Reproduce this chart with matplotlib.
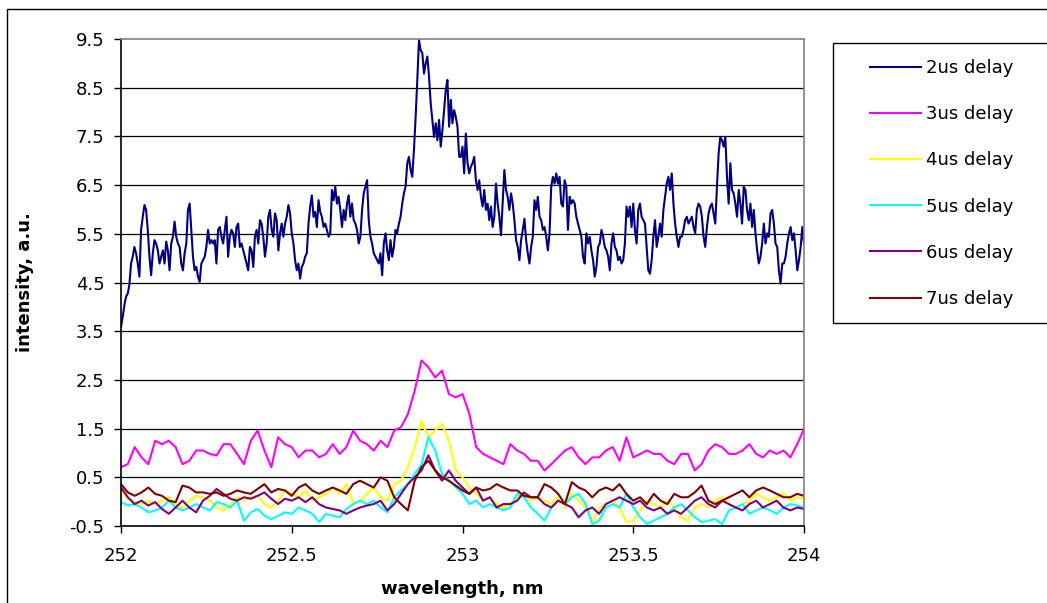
import numpy as np
import matplotlib
matplotlib.use("Agg")
import matplotlib.pyplot as plt
from matplotlib.patches import Rectangle

# intensity spectra around 253 nm for several gate delays
labels = ["2us delay", "3us delay", "4us delay", "5us delay", "6us delay", "7us delay"]
colors = ["#000080", "#FF00FF", "#FFFF00", "#00FFFF", "#800080", "#800000"]

# 2us series is sampled more finely than the others
delay_2us = [
    3.59, 3.79, 4.03, 4.21, 4.27, 4.45, 4.89, 5.03, 5.23, 5.10, 4.89, 4.62, 5.58, 5.85, 6.09, 5.99,
    5.58, 5.03, 4.65, 5.10, 5.37, 5.30, 5.16, 4.89, 5.03, 5.16, 4.89, 5.34, 5.16, 4.75, 5.30, 5.44,
    5.75, 5.44, 5.30, 5.23, 4.89, 4.75, 5.10, 5.30, 5.99, 6.12, 5.58, 5.03, 4.75, 4.82, 4.62, 4.51,
    4.89, 4.96, 5.03, 5.23, 5.58, 5.30, 5.37, 5.30, 5.37, 4.89, 5.58, 5.64, 5.44, 5.30, 5.58, 5.85,
    5.03, 5.44, 5.58, 5.51, 5.23, 5.64, 5.71, 5.23, 5.30, 5.16, 5.03, 4.89, 4.75, 5.23, 5.16, 4.82,
    5.44, 5.58, 5.30, 5.78, 5.71, 5.44, 5.03, 5.30, 5.85, 5.99, 5.58, 5.44, 5.92, 5.78, 5.16, 5.51,
    5.71, 5.44, 5.71, 5.85, 6.09, 5.92, 5.51, 5.30, 4.96, 4.75, 4.89, 4.58, 4.82, 4.89, 5.03, 5.10,
    5.71, 6.06, 6.29, 5.85, 5.95, 5.64, 6.19, 5.95, 5.85, 5.64, 5.71, 5.58, 5.44, 5.51, 6.40, 6.19,
    6.47, 6.12, 6.26, 5.99, 5.64, 5.99, 5.78, 6.12, 6.29, 5.85, 6.12, 5.78, 5.71, 5.58, 5.30, 5.44,
    5.99, 6.33, 6.47, 6.60, 5.78, 5.44, 5.30, 5.10, 5.03, 4.96, 4.89, 5.10, 4.65, 5.30, 5.51, 5.16,
    4.96, 5.37, 5.03, 5.23, 5.58, 5.51, 5.71, 5.85, 6.12, 6.33, 6.47, 6.95, 7.08, 6.81, 6.67, 7.22,
    7.90, 8.66, 9.48, 9.27, 9.21, 8.79, 9.00, 9.14, 8.73, 8.18, 7.84, 7.49, 7.77, 7.42, 7.84, 7.29,
    7.63, 8.04, 8.45, 8.66, 7.70, 8.25, 7.77, 8.04, 7.90, 7.70, 7.08,
    7.08, 7.29, 6.74, 7.56, 6.95, 6.74, 6.88, 6.95, 7.08, 6.60, 6.40, 6.60, 6.26, 6.06, 6.40, 5.99,
    6.12, 5.78, 6.06, 5.64, 5.85, 6.53, 6.12, 5.85, 5.47, 6.12, 6.81, 6.40, 6.26, 5.99, 6.33, 6.12,
    5.78, 5.37, 5.23, 4.96, 5.37, 5.58, 5.81, 5.37, 5.10, 4.89, 5.23, 5.44, 6.19, 5.99, 6.26, 5.85,
    5.78, 5.58, 5.64, 5.44, 5.16, 5.51, 6.47, 6.67, 6.53, 6.74, 6.53, 6.67, 6.12, 6.06, 6.60, 6.47,
    5.58, 6.26, 6.12, 6.19, 6.12, 5.85, 5.71, 5.58, 5.44, 5.03, 4.89, 5.51, 5.30, 5.44, 5.16, 4.96,
    4.62, 4.82, 5.23, 5.30, 5.58, 5.44, 5.23, 5.16, 5.03, 4.75, 5.30, 5.51, 5.23, 5.16, 4.96, 5.03,
    4.89, 4.96, 5.30, 6.06, 5.85, 6.06, 5.64, 6.12, 5.58, 5.30, 5.99, 6.12, 5.85, 5.78, 5.71, 5.23,
    4.75, 4.68, 4.96, 5.44, 5.78, 5.23, 5.44, 5.71, 5.44, 5.99, 6.26, 6.53, 6.67, 6.40, 6.74, 6.12,
    5.71, 5.44, 5.23, 5.44, 5.44, 5.58, 5.78, 5.85, 5.71, 5.78, 5.85, 5.64, 5.51, 5.99, 6.12, 6.06,
    5.85, 5.44, 5.23, 5.64, 5.92, 6.06, 6.12, 5.92, 5.71, 6.47, 7.15, 7.49, 7.42, 7.29, 7.49, 6.67,
    6.12, 6.95, 6.40, 6.33, 6.12, 5.85, 6.40, 6.12, 5.71, 6.47, 6.40, 5.99, 5.78, 6.12, 5.64, 5.99,
    5.51, 5.16, 4.89, 5.03, 5.30, 5.71, 5.30, 5.51, 5.44, 5.92, 5.99, 5.71, 5.30, 5.23, 4.75, 4.48,
    4.89, 4.89, 5.03, 5.30, 5.51, 5.64, 5.37, 5.51, 5.16, 4.75, 4.96, 5.23, 5.64, 5.30,
]

delay_3us = [
    0.71, 0.77, 1.12, 0.91, 0.77, 1.25, 1.18, 1.25, 1.12, 0.77, 0.84, 1.05, 1.05, 0.98, 0.95, 1.18,
    1.18, 0.98, 0.77, 1.25, 1.46, 1.05, 0.71, 1.32, 1.18, 1.12, 0.91, 1.05, 1.05, 0.91, 0.98, 1.18,
    0.98, 1.12, 1.46, 1.25, 1.18, 1.05, 1.25, 1.12, 1.46, 1.53, 1.80, 2.28, 2.90, 2.76, 2.55, 2.69,
    2.21, 2.14, 2.21, 1.80, 1.12, 0.98, 0.91, 0.84, 0.77, 1.18, 1.05, 0.98, 0.84, 0.84, 0.64, 0.77,
    0.91, 1.05, 1.12, 0.91, 0.77, 0.91, 0.91, 1.05, 1.12, 0.84, 1.32, 0.91, 0.98, 1.05, 0.98, 0.98,
    0.84, 0.77, 0.98, 0.98, 0.64, 0.77, 1.05, 1.18, 1.12, 0.98, 0.98, 1.05, 1.18, 0.98, 0.91, 1.05,
    0.98, 1.05, 0.91, 1.18, 1.49,
]

delay_4us = [
    0.23, 0.06, -0.01, -0.05, 0.02, -0.05, 0.02, 0.09, -0.05, -0.12, 0.02, 0.12, 0.09, 0.02, -0.12, -0.18,
    -0.05, 0.09, 0.02, 0.09, 0.12, -0.05, -0.12, 0.02, 0.23, 0.16, 0.09, 0.23, 0.02, 0.09, 0.16, 0.29,
    0.16, 0.36, -0.05, 0.02, 0.16, 0.29, 0.09, 0.02, 0.36, 0.43, 0.71, 1.12, 1.66, 1.32, 1.46, 1.60,
    1.25, 0.65, 0.50, 0.29, 0.16, 0.02, 0.09, -0.05, -0.12, -0.05, 0.09, 0.16, 0.02, 0.09, 0.02, -0.05,
    0.09, -0.12, 0.16, 0.02, -0.12, -0.42, -0.12, -0.05, 0.02, -0.12, -0.42, -0.39, -0.18, 0.02, -0.05, -0.12,
    0.02, -0.12, -0.32, -0.39, -0.12, -0.05, -0.12, 0.02, 0.09, -0.05, -0.12, -0.05, 0.02, 0.16, 0.09, 0.02,
    0.09, 0.16, 0.02, 0.09, 0.06,
]

delay_5us = [
    -0.01, -0.08, -0.05, -0.12, -0.22, -0.18, -0.12, 0.02, -0.12, -0.18, -0.12, -0.05, -0.12, -0.18, -0.01, -0.05,
    -0.12, 0.02, -0.39, -0.22, -0.15, -0.29, -0.36, -0.29, -0.22, -0.25, -0.12, -0.18, -0.25, -0.42, -0.25, -0.29,
    -0.32, -0.15, -0.05, 0.02, -0.05, 0.02, -0.12, -0.22, 0.09, 0.23, 0.36, 0.57, 0.77, 1.32, 1.05, 0.57,
    0.43, 0.30, 0.16, -0.05, 0.02, -0.12, -0.05, -0.12, -0.18, -0.12, 0.16, 0.09, -0.12, -0.25, -0.39, -0.12,
    0.02, -0.05, 0.09, 0.16, -0.05, -0.46, -0.39, -0.12, -0.05, -0.12, 0.16, -0.12, -0.32, -0.46, -0.39, -0.32,
    -0.25, -0.12, -0.05, -0.18, -0.32, -0.42, -0.39, -0.36, -0.46, -0.18, -0.12, -0.05, -0.25, -0.18, -0.12, -0.18,
    -0.25, -0.12, -0.05, -0.08, -0.12,
]

delay_6us = [
    0.29, 0.09, -0.05, 0.02, -0.08, -0.01, -0.15, -0.25, -0.12, 0.02, -0.12, -0.22, 0.02, 0.12, 0.26, 0.16,
    0.06, 0.02, 0.09, 0.06, 0.12, 0.19, 0.06, -0.05, 0.06, 0.02, 0.09, -0.01, 0.09, -0.05, -0.12, -0.15,
    -0.18, -0.25, -0.18, -0.12, -0.08, -0.05, 0.02, -0.18, -0.05, 0.16, 0.36, 0.50, 0.64, 0.95, 0.64, 0.43,
    0.64, 0.43, 0.29, 0.16, 0.29, 0.02, 0.09, -0.12, -0.05, -0.05, 0.02, 0.19, 0.09, 0.09, -0.05, -0.12,
    0.02, -0.05, -0.12, -0.32, -0.18, -0.12, -0.25, -0.05, 0.02, 0.09, 0.02, -0.05, 0.02, -0.12, -0.18, -0.12,
    -0.25, -0.18, -0.25, -0.12, 0.02, 0.09, -0.05, -0.12, 0.02, -0.05, -0.12, -0.18, -0.05, 0.02, -0.12, -0.05,
    0.02, -0.12, -0.18, -0.12, -0.15,
]

delay_7us = [
    0.36, 0.19, 0.12, 0.19, 0.29, 0.16, 0.12, 0.02, -0.01, 0.33, 0.29, 0.19, 0.19, 0.16, 0.19, 0.12,
    0.16, 0.23, 0.19, 0.16, 0.26, 0.36, 0.19, 0.26, 0.23, 0.12, 0.29, 0.36, 0.23, 0.16, 0.23, 0.29,
    0.23, 0.16, 0.36, 0.43, 0.36, 0.29, 0.50, 0.43, 0.09, -0.05, -0.18, 0.43, 0.71, 0.84, 0.64, 0.50,
    0.43, 0.33, 0.23, 0.16, 0.29, 0.23, 0.26, 0.36, 0.29, 0.23, 0.23, 0.12, 0.09, 0.09, 0.36, 0.29,
    0.16, -0.05, 0.40, 0.29, 0.23, 0.09, 0.23, 0.29, 0.23, 0.36, 0.16, 0.02, 0.09, -0.05, 0.16, 0.02,
    -0.05, 0.16, 0.09, 0.09, 0.19, 0.33, 0.02, -0.05, 0.02, 0.09, 0.16, 0.23, 0.09, 0.23, 0.29, 0.23,
    0.16, 0.09, 0.09, 0.16, 0.12,
]

series = [delay_2us, delay_3us, delay_4us, delay_5us, delay_6us, delay_7us]

xticks = [252, 252.5, 253, 253.5, 254]
xtick_labels = ["252", "252.5", "253", "253.5", "254"]
yticks = [-0.5, 0.5, 1.5, 2.5, 3.5, 4.5, 5.5, 6.5, 7.5, 8.5, 9.5]
ytick_labels = ["-0.5", "0.5", "1.5", "2.5", "3.5", "4.5", "5.5", "6.5", "7.5", "8.5", "9.5"]

W, H = 1047, 603
fig = plt.figure(figsize=(W / 100, H / 100), dpi=100)
ax = fig.add_axes([121 / W, 1 - 526 / H, (804 - 121) / W, (526 - 39) / H])

# gridlines behind the data
for yv in yticks[1:-1]:
    ax.axhline(yv, color="black", lw=0.9, zorder=1)

for vals, lab, col in zip(series, labels, colors):
    wl = np.linspace(252, 254, len(vals))
    ax.plot(wl, vals, color=col, lw=1.5, label=lab, zorder=2)

ax.set_xlim(252, 254)
ax.set_ylim(-0.5, 9.5)
ax.set_xticks(xticks)
ax.set_xticklabels(xtick_labels)
ax.set_yticks(yticks)
ax.set_yticklabels(ytick_labels)
ax.tick_params(axis="both", direction="out", length=5, width=1, labelsize=13, color="black")
ax.tick_params(axis="y", pad=7)
ax.tick_params(axis="x", pad=10)

for side in ["left", "bottom"]:
    ax.spines[side].set_color("black")
    ax.spines[side].set_linewidth(1.2)
for side in ["top", "right"]:
    ax.spines[side].set_color("#808080")
    ax.spines[side].set_linewidth(1.2)

ax.set_xlabel("wavelength, nm", fontsize=13, fontweight="bold")
ax.set_ylabel("intensity, a.u.", fontsize=13, fontweight="bold")
ax.xaxis.set_label_coords(0.5, (526 - 589) / 487)
ax.yaxis.set_label_coords((25 - 121) / 683, 0.5)
ax.xaxis.label.set_va("center")
ax.yaxis.label.set_va("center")

# legend box (runs off the right edge like the original)
fig.patches.append(Rectangle((833 / W, 1 - 323 / H), 0.3, (323 - 43) / H,
                             transform=fig.transFigure, fill=False,
                             edgecolor="black", lw=1.0, clip_on=False))
leg = fig.legend(loc="upper left", bbox_to_anchor=(870 / W, 1 - 59 / H),
                 frameon=False, fontsize=13, borderpad=0, borderaxespad=0,
                 handlelength=2.8, handletextpad=0.3, labelspacing=1.56)

# outer chart border
fig.patches.append(Rectangle((7 / W, -0.1), 1.2, 1 - 9 / H + 0.1,
                             transform=fig.transFigure, fill=False,
                             edgecolor="black", lw=1.0, clip_on=False))

fig.savefig("out.png", dpi=100)
